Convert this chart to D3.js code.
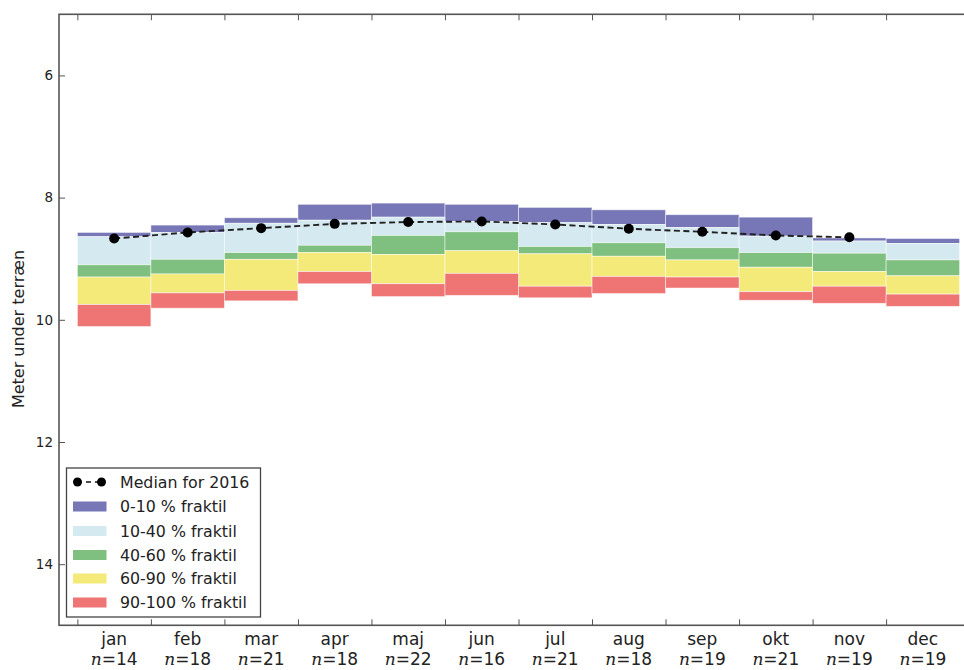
<!DOCTYPE html>
<html><head><meta charset="utf-8">
<script src="https://cdn.jsdelivr.net/npm/d3@7"></script>
<style>body{margin:0;background:#fff;} svg{display:block;}</style>
</head><body>
<svg id="chart" width="964" height="670"></svg>
<script>
const months = ["jan","feb","mar","apr","maj","jun","jul","aug","sep","okt","nov","dec"];
const nCounts = [14,18,21,18,22,16,21,18,19,21,19,19];
const q0   = [8.57, 8.45, 8.33, 8.11, 8.09, 8.11, 8.16, 8.20, 8.28, 8.32, 8.66, 8.67];
const q10  = [8.64, 8.57, 8.42, 8.37, 8.32, 8.39, 8.41, 8.44, 8.49, 8.63, 8.71, 8.75];
const q40  = [9.10, 9.01, 8.90, 8.78, 8.62, 8.56, 8.80, 8.74, 8.82, 8.90, 8.91, 9.02];
const q60  = [9.30, 9.25, 9.01, 8.90, 8.93, 8.87, 8.92, 8.96, 9.02, 9.14, 9.21, 9.28];
const q90  = [9.75, 9.56, 9.52, 9.21, 9.41, 9.24, 9.45, 9.29, 9.30, 9.54, 9.45, 9.58];
const q100 = [10.11, 9.81, 9.69, 9.41, 9.62, 9.60, 9.64, 9.57, 9.48, 9.68, 9.73, 9.78];
const median2016 = [8.67, 8.57, 8.50, 8.43, 8.40, 8.39, 8.44, 8.51, 8.56, 8.62, 8.65, null];
const yTicks = [6, 8, 10, 12, 14];
const bandLabels = ["0-10 % fraktil","10-40 % fraktil","40-60 % fraktil","60-90 % fraktil","90-100 % fraktil"];
const bandColors = ["#7777b8","#d5e9f0","#7fbf80","#f4ea7a","#ef7575"];
const medianLabel = "Median for 2016";

const svg = d3.select("#chart");
const L = 59, R = 978, T = 14.3, B = 625.3;
const x = d3.scaleLinear().domain([-0.25, 12.25]).range([L, R]);
const y = d3.scaleLinear().domain([5, 15]).range([T, B]);

// bands
const bounds = [q0, q10, q40, q60, q90, q100];
const g = svg.append("g");
for (let b = 0; b < 5; b++) {
  g.selectAll(null).data(months).enter().append("rect")
    .attr("x", (d, i) => x(i))
    .attr("width", (d, i) => x(i + 1) - x(i))
    .attr("y", (d, i) => y(bounds[b][i]))
    .attr("height", (d, i) => y(bounds[b + 1][i]) - y(bounds[b][i]))
    .attr("fill", bandColors[b])
    .attr("stroke", "#fff").attr("stroke-width", 0.8).attr("stroke-opacity", 0.6);
}

// median line
const medData = median2016.map((v, i) => ({i, v})).filter(d => d.v != null);
svg.append("path").datum(medData)
  .attr("d", d3.line().x(d => x(d.i + 0.5)).y(d => y(d.v)))
  .attr("fill", "none").attr("stroke", "#222").attr("stroke-width", 1.9)
  .attr("stroke-dasharray", "6,3.5");
svg.selectAll(null).data(medData).enter().append("circle")
  .attr("cx", d => x(d.i + 0.5)).attr("cy", d => y(d.v)).attr("r", 5).attr("fill", "#000");

// axes frame
const axisColor = "#555";
svg.append("rect").attr("x", L).attr("y", T).attr("width", R - L).attr("height", B - T)
  .attr("fill", "none").attr("stroke", axisColor).attr("stroke-width", 1.6);

// y axis ticks (inward) and labels
const yAxis = d3.axisLeft(y).tickValues(yTicks).tickSizeInner(-6).tickSizeOuter(0).tickPadding(6);
const ya = svg.append("g").attr("transform", `translate(${L},0)`).call(yAxis);
ya.select(".domain").remove();
ya.selectAll(".tick line").attr("stroke", axisColor).attr("stroke-width", 1);
ya.selectAll(".tick text").attr("font-family", "DejaVu Sans").attr("font-size", 13.5).attr("fill", "#222");

// x ticks (inward) bottom and top
const xt = d3.range(12);
const xAxisB = d3.axisBottom(x).tickValues(xt).tickSizeInner(-6).tickSizeOuter(0).tickFormat("");
const xb = svg.append("g").attr("transform", `translate(0,${B})`).call(xAxisB);
xb.select(".domain").remove();
xb.selectAll(".tick line").attr("stroke", axisColor);
const xAxisT = d3.axisTop(x).tickValues(xt).tickSizeInner(-6).tickSizeOuter(0).tickFormat("");
const xtop = svg.append("g").attr("transform", `translate(0,${T})`).call(xAxisT);
xtop.select(".domain").remove();
xtop.selectAll(".tick line").attr("stroke", axisColor);

// x labels
const lab = svg.append("g");
months.forEach((m, i) => {
  const cx = x(i + 0.5);
  lab.append("text").attr("x", cx).attr("y", 645).attr("text-anchor", "middle")
    .attr("font-family", "DejaVu Sans").attr("font-size", 17).attr("fill", "#222").text(m);
  const t = lab.append("text").attr("x", cx).attr("y", 665).attr("text-anchor", "middle")
    .attr("font-family", "DejaVu Sans").attr("font-size", 17).attr("fill", "#222");
  t.append("tspan").attr("font-family", "DejaVu Serif").attr("font-style", "italic").text("n");
  t.append("tspan").text("=" + nCounts[i]);
});

// y label
svg.append("text").attr("transform", "translate(24,329) rotate(-90)")
  .attr("text-anchor", "middle").attr("font-family", "DejaVu Sans").attr("font-size", 16)
  .attr("fill", "#222").text("Meter under terræn");

// legend
const lg = svg.append("g");
lg.append("rect").attr("x", 66.5).attr("y", 468).attr("width", 194).attr("height", 149)
  .attr("fill", "#fff").attr("stroke", "#444").attr("stroke-width", 1.3);
const rowY = [482, 506.5, 531, 555, 578.5, 602.5];
lg.append("line").attr("x1", 77).attr("x2", 102).attr("y1", rowY[0]).attr("y2", rowY[0])
  .attr("stroke", "#111").attr("stroke-width", 1.6).attr("stroke-dasharray", "5,4");
[77.5, 101.5].forEach(cx => lg.append("circle").attr("cx", cx).attr("cy", rowY[0]).attr("r", 4.5).attr("fill", "#000"));
lg.append("text").attr("x", 120).attr("y", rowY[0]).attr("dy", "0.35em")
  .attr("font-family", "DejaVu Sans").attr("font-size", 15.8).attr("fill", "#222").text(medianLabel);
bandLabels.forEach((t, k) => {
  const cy = rowY[k + 1];
  lg.append("rect").attr("x", 73).attr("y", cy - 5).attr("width", 33.5).attr("height", 10).attr("fill", bandColors[k]);
  lg.append("text").attr("x", 120).attr("y", cy).attr("dy", "0.35em")
    .attr("font-family", "DejaVu Sans").attr("font-size", 15.8).attr("fill", "#222").text(t);
});
</script>
</body></html>
